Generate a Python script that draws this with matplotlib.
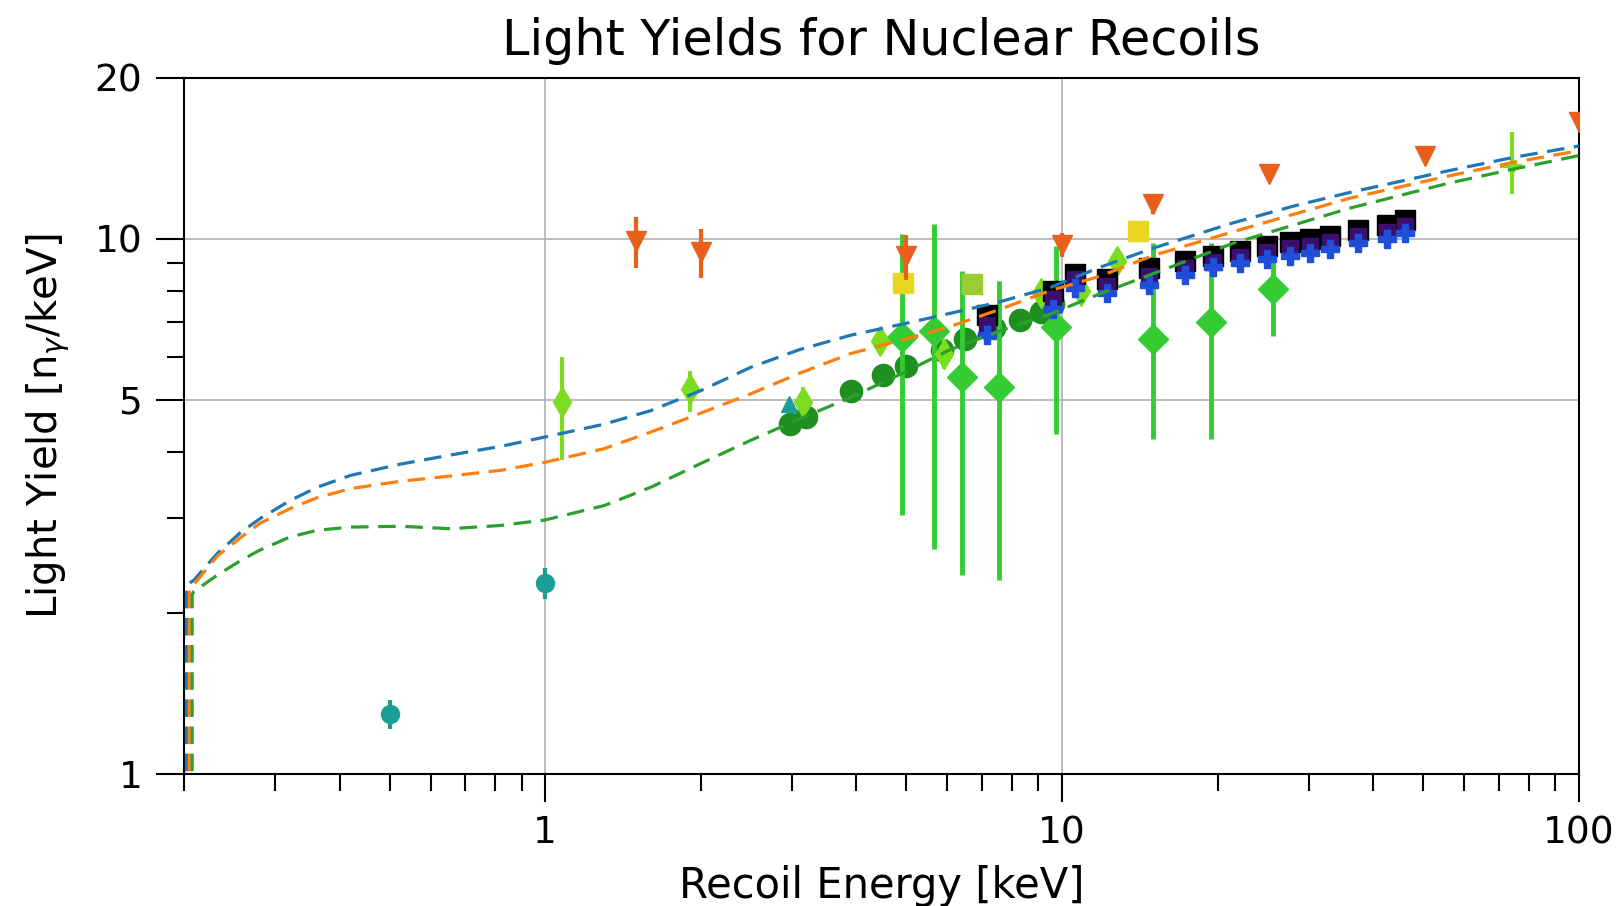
import numpy as np
import matplotlib
matplotlib.use('Agg')
import matplotlib.pyplot as plt
from matplotlib.ticker import FixedLocator, FuncFormatter, NullFormatter

# Модельные кривые (читаются с картинки)
model_x = [0.207, 0.209, 0.232, 0.257, 0.281, 0.321, 0.362, 0.42, 0.525, 0.655, 0.82, 1.0,
           1.3, 1.6, 2.0, 2.5, 3.1, 3.9, 5.0, 6.07, 7.5, 9.5, 11.8, 15.0, 21.4, 28.0,
           36.0, 56.0, 75.0, 100.0]
model_blue = [2.25, 2.30, 2.58, 2.82, 3.0, 3.24, 3.43, 3.61, 3.79, 3.94, 4.09, 4.26,
              4.5, 4.77, 5.2, 5.75, 6.2, 6.6, 6.95, 7.25, 7.6, 8.11, 8.83, 9.6, 10.7, 11.5,
              12.2, 13.4, 14.2, 14.9]
model_orange = [2.22, 2.26, 2.55, 2.76, 2.94, 3.13, 3.28, 3.41, 3.52, 3.6, 3.69, 3.82,
                4.05, 4.35, 4.72, 5.13, 5.6, 6.1, 6.5, 6.85, 7.35, 8.0, 8.5, 9.3, 10.3, 11.1,
                11.9, 13.1, 13.9, 14.6]
model_green = [2.16, 2.19, 2.35, 2.5, 2.62, 2.77, 2.85, 2.89, 2.9, 2.87, 2.91, 2.98,
               3.17, 3.43, 3.8, 4.2, 4.6, 5.05, 5.65, 6.2, 6.7, 7.23, 7.88, 8.6, 9.8, 10.6,
               11.4, 12.7, 13.5, 14.3]
# ниже порога кривые обрываются вниз
drop_x = [0.2022, 0.2048, 0.2074]
drop_y = 0.001

# Оранжевые треугольники
tri_x = [1.5, 2.0, 5.0, 10.0, 15.0, 25.2, 50.4, 100.0]
tri_y = [9.9, 9.44, 9.27, 9.75, 11.6, 13.2, 14.3, 16.5]
tri_err = [1.1, 1.0, 0.9, 0.5, 0.5, 0.4, 0.4, 0.4]

# Бирюзовые точки
teal_x = [0.5, 1.0]
teal_y = [1.29, 2.27]
teal_err = [0.08, 0.15]
teal_tri_x = [2.96, 7.1, 9.4]
teal_tri_y = [4.9, 6.8, 7.7]

# Салатовые узкие ромбы
lime_x = [1.08, 1.91, 3.16, 4.45, 5.9, 9.1, 10.9, 12.8]
lime_y = [4.95, 5.24, 4.95, 6.45, 6.1, 7.9, 8.0, 9.1]
lime_lo = [3.85, 4.74, 4.64, 6.15, 5.7, 7.6, 7.7, 8.8]
lime_hi = [6.0, 5.67, 5.28, 6.75, 6.5, 8.2, 8.3, 9.4]
lime_far_x = [74.1]
lime_far_y = [13.7]
lime_far_lo = [12.1]
lime_far_hi = [15.8]
lime_far_xerr = [3.6]

# Большие зелёные ромбы
dia_x = [4.9, 5.65, 6.4, 7.55, 9.75, 15.0, 19.4, 25.6]
dia_y = [6.54, 6.73, 5.51, 5.27, 6.83, 6.5, 6.98, 8.05]
dia_lo = [3.04, 2.63, 2.35, 2.30, 4.32, 4.23, 4.23, 6.59]
dia_hi = [10.2, 10.65, 8.71, 8.35, 9.7, 9.8, 9.8, 9.49]

# Тёмно-зелёные кружки
circ_x = [2.98, 3.2, 3.9, 4.5, 5.0, 5.85, 6.5, 7.4, 8.3, 9.1, 9.6]
circ_y = [4.5, 4.65, 5.2, 5.55, 5.77, 6.2, 6.5, 6.8, 7.05, 7.3, 7.55]

# Квадраты (стопка 7-46 кэВ)
sq_x = [7.15, 9.6, 10.6, 12.2, 14.7, 17.3, 19.6, 22.1, 24.9, 27.6, 30.2, 33.0, 37.4, 42.5, 46.0]
sq_black = [7.2, 8.0, 8.6, 8.4, 8.8, 9.1, 9.3, 9.5, 9.7, 9.85, 10.0, 10.1, 10.4, 10.6, 10.85]
sq_indigo = [6.9, 7.7, 8.4, 8.15, 8.5, 8.8, 9.05, 9.25, 9.45, 9.6, 9.7, 9.85, 10.1, 10.3, 10.55]
sq_blue = [6.6, 7.4, 8.1, 7.9, 8.2, 8.55, 8.85, 9.0, 9.15, 9.3, 9.4, 9.55, 9.8, 10.0, 10.25]

# Жёлтые квадраты
yel_x = [4.93, 14.0]
yel_y = [8.28, 10.35]
yg_x = [6.69]
yg_y = [8.23]

fig = plt.figure(figsize=(16.21, 9.06), dpi=100)
ax = fig.add_axes([0.1135, 0.1461, 0.974 - 0.1135, 0.9143 - 0.1461])
ax.set_xscale('log')
ax.set_yscale('log')

ax.plot(circ_x, circ_y, 'o', color='#1f8f1f', ms=16, zorder=3)
ax.errorbar(dia_x, dia_y,
            yerr=[np.array(dia_y) - np.array(dia_lo), np.array(dia_hi) - np.array(dia_y)],
            fmt='D', color='#33cc33', ms=15, elinewidth=3.5, capsize=0, zorder=4)
ax.errorbar(lime_x, lime_y,
            yerr=[np.array(lime_y) - np.array(lime_lo), np.array(lime_hi) - np.array(lime_y)],
            fmt='d', color='#7ddc1f', ms=15, elinewidth=3, capsize=0, zorder=5)
ax.errorbar(lime_far_x, lime_far_y, xerr=lime_far_xerr,
            yerr=[np.array(lime_far_y) - np.array(lime_far_lo), np.array(lime_far_hi) - np.array(lime_far_y)],
            fmt='d', color='#7ddc1f', ms=8, elinewidth=3, capsize=0, zorder=5)
ax.errorbar(teal_x, teal_y, yerr=teal_err, fmt='o', color='#1a9e96', ms=13,
            elinewidth=3, capsize=0, zorder=5)
ax.plot(teal_tri_x, teal_tri_y, '^', color='#1a9e96', ms=12, zorder=5)
ax.plot(sq_x, sq_black, 's', color='black', ms=15, zorder=6)
ax.plot(sq_x, sq_indigo, 's', color='#3b0f70', ms=12, zorder=6)
ax.plot(sq_x, sq_blue, 'P', color='#1f4fd8', ms=13, zorder=6)
ax.errorbar(yel_x, yel_y, yerr=0.15, fmt='s', color='#e8d620', ms=15, capsize=0, zorder=6)
ax.plot(yg_x, yg_y, 's', color='#9acd32', ms=15, zorder=6)
ax.errorbar(tri_x, tri_y, yerr=tri_err, fmt='v', color='#e8601c', ms=15,
            elinewidth=3, capsize=0, zorder=7)

# кривые: вертикальный обрыв у порога, затем сама модель
curves = [(model_blue, '#1f77b4'), (model_orange, '#ff7f0e'), (model_green, '#2ca02c')]
for (yy, c), dx in zip(curves, drop_x):
    xs = [dx, dx] + model_x[1:]
    ys = [drop_y, yy[0]] + yy[1:]
    ax.plot(xs, ys, '--', color=c, lw=2.3, dashes=(5.5, 3), zorder=8)

ax.set_xlim(0.2, 100)
ax.set_ylim(1, 20)

ax.xaxis.set_major_locator(FixedLocator([1, 10, 100]))
ax.xaxis.set_minor_locator(FixedLocator([0.2, 0.3, 0.4, 0.5, 0.6, 0.7, 0.8, 0.9,
                                         2, 3, 4, 5, 6, 7, 8, 9,
                                         20, 30, 40, 50, 60, 70, 80, 90]))
ax.yaxis.set_major_locator(FixedLocator([1, 5, 10, 20]))
ax.yaxis.set_minor_locator(FixedLocator([2, 3, 4, 6, 7, 8, 9]))
fmt = FuncFormatter(lambda v, p: '%g' % v)
ax.xaxis.set_major_formatter(fmt)
ax.yaxis.set_major_formatter(fmt)
ax.xaxis.set_minor_formatter(NullFormatter())
ax.yaxis.set_minor_formatter(NullFormatter())

ax.tick_params(which='major', length=20, width=1.5, labelsize=27, pad=10)
ax.tick_params(which='minor', length=12, width=1.5)
for s in ax.spines.values():
    s.set_linewidth(1.5)
ax.grid(True, which='major', color='#b0b0b0', lw=1.2)
ax.set_axisbelow(True)

ax.set_title('Light Yields for Nuclear Recoils', fontsize=35.5, pad=16)
ax.set_xlabel('Recoil Energy [keV]', fontsize=30, labelpad=10)
ax.set_ylabel(r'Light Yield [n$_\gamma$/keV]', fontsize=29, labelpad=16)

fig.savefig('out.png', dpi=100)
